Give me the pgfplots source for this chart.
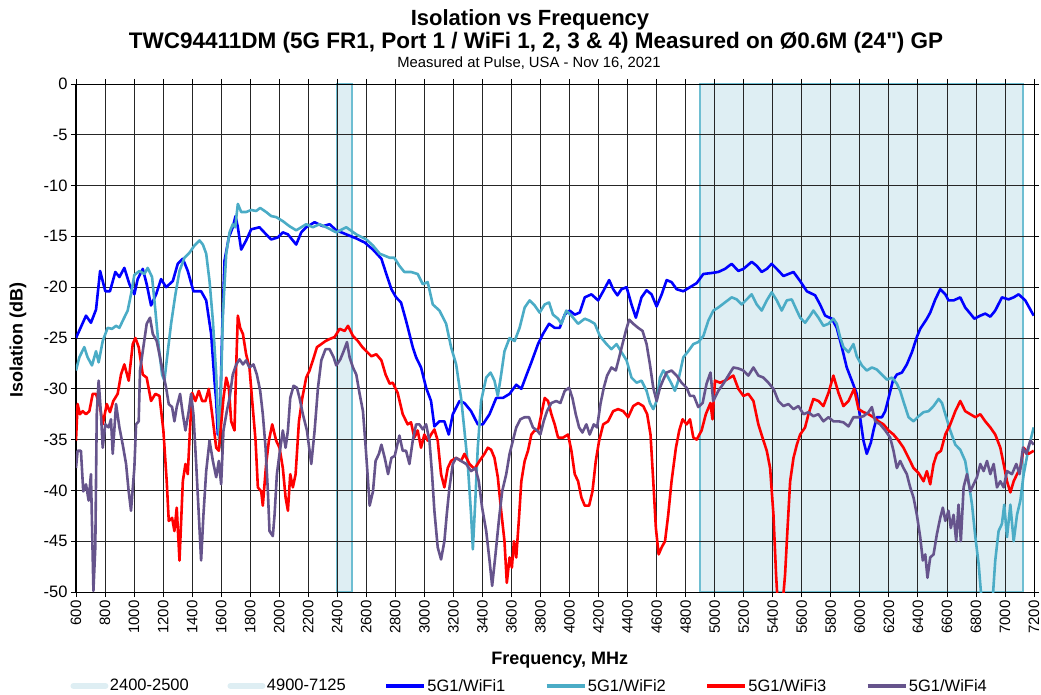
\documentclass[border=0pt]{standalone}
\usepackage{pgfplots}
\pgfplotsset{compat=1.18}
\usepackage{fontspec}
\setmainfont{Liberation Sans}
\newfontfamily\qfont{Liberation Sans}
\definecolor{cBlue}{RGB}{0,0,255}
\definecolor{cCyan}{RGB}{75,172,198}
\definecolor{cRed}{RGB}{255,0,0}
\definecolor{cPurple}{RGB}{102,84,140}
\definecolor{bandfill}{RGB}{222,238,243}
\definecolor{bandline}{RGB}{110,190,210}
\begin{document}
\begin{tikzpicture}
\begin{axis}[name=ax, at={(0,0)}, anchor=south west,
  width=958pt, height=508pt, scale only axis,
  xmin=600, xmax=7200, ymin=-50, ymax=0,
  xtick={600,800,...,7200}, ytick={-50,-45,...,0},
  set layers=standard,
  grid=major, grid style={black!85, line width=0.8pt},
  axis line style={black, line width=1pt},
  tick style={black, line width=0.8pt},
  tick align=outside, major tick length=5pt,
  xticklabel style={rotate=90, anchor=east, font=\fontsize{15}{15}\selectfont},
  yticklabel style={font=\fontsize{16.5}{16.5}\selectfont},
  /pgf/number format/assume math mode=true,
  /pgf/number format/1000 sep={},
  xlabel={Frequency, MHz},
  xlabel style={font=\fontsize{18}{18}\selectfont\bfseries, at={(axis description cs:0.505,-0.134)}, anchor=center},
  ylabel={Isolation (dB)},
  ylabel style={font=\fontsize{18}{18}\selectfont\bfseries, at={(axis description cs:-0.0605,0.496)}, anchor=center},
  legend style={at={(axis description cs:-0.006,-0.185)}, anchor=west, draw=none, fill=none,
    legend columns=6, inner sep=0pt, nodes={inner sep=1.5pt},
    font=\fontsize{16.5}{16.5}\selectfont,
    /tikz/every even column/.append style={column sep=0pt}},
  legend cell align=left,
]
\addplot[on layer=axis background, fill=bandfill, draw=bandline, line width=1.8pt,
  legend image code/.code={\draw[bandfill, line width=6pt, line cap=round] (3pt,0pt) -- (35pt,0pt);}]
  coordinates {(2400,-50) (2400,0) (2500,0) (2500,-50) (2400,-50)};
\addlegendentry{\makebox[116pt][l]{2400-2500}}
\addplot[on layer=axis background, fill=bandfill, draw=bandline, line width=1.8pt,
  legend image code/.code={\draw[bandfill, line width=6pt, line cap=round] (3pt,0pt) -- (35pt,0pt);}]
  coordinates {(4900,-50) (4900,0) (7125,0) (7125,-50) (4900,-50)};
\addlegendentry{\makebox[116pt][l]{4900-7125}}

\addplot[cBlue, line width=2.6pt, line join=round,
  legend image code/.code={\draw[cBlue, line width=3.5pt] (0pt,0pt) -- (38pt,0pt);}]
coordinates {(600,-25.0) (669,-22.8) (703,-23.5) (738,-22.2) (766,-18.4) (802,-20.4) (834,-20.4) (871,-18.5) (899,-19.0) (933,-18.1) (968,-19.7) (1002,-20.7) (1025,-19.2) (1060,-18.2) (1087,-19.7) (1117,-21.8) (1152,-20.7) (1186,-19.2) (1221,-20.0) (1267,-19.4) (1301,-17.7) (1336,-17.2) (1370,-18.4) (1409,-20.4) (1462,-20.4) (1497,-21.3) (1531,-24.6) (1554,-29.2) (1566,-31.2) (1577,-34.5) (1593,-32.5) (1607,-24.3) (1623,-17.4) (1653,-15.1) (1680,-14.1) (1699,-13.0) (1715,-14.1) (1738,-16.3) (1772,-15.4) (1807,-14.3) (1864,-14.1) (1910,-14.8) (1945,-15.3) (1991,-15.1) (2025,-14.6) (2060,-14.8) (2094,-15.4) (2117,-15.8) (2152,-14.6) (2186,-14.1) (2244,-13.6) (2301,-14.0) (2347,-13.8) (2393,-14.4) (2462,-14.8) (2531,-15.2) (2589,-15.6) (2646,-16.3) (2704,-17.2) (2738,-18.7) (2773,-20.2) (2805,-21.0) (2839,-21.5) (2874,-23.3) (2920,-25.9) (2943,-26.9) (2977,-27.9) (3012,-29.9) (3046,-31.2) (3069,-33.7) (3104,-33.2) (3138,-33.2) (3168,-34.5) (3196,-32.5) (3242,-31.2) (3276,-31.4) (3322,-32.2) (3368,-33.5) (3403,-33.5) (3449,-32.5) (3495,-30.9) (3541,-30.9) (3587,-30.5) (3633,-29.6) (3668,-30.0) (3702,-28.7) (3737,-27.4) (3783,-25.6) (3817,-24.6) (3859,-23.6) (3898,-24.0) (3932,-24.0) (3967,-22.7) (4001,-22.3) (4036,-22.7) (4070,-22.5) (4105,-21.0) (4151,-20.7) (4197,-21.3) (4232,-20.4) (4273,-19.3) (4301,-20.2) (4330,-20.8) (4358,-20.2) (4393,-20.0) (4427,-21.7) (4457,-23.0) (4496,-21.0) (4531,-20.3) (4565,-20.7) (4600,-21.9) (4635,-20.7) (4669,-19.3) (4703,-19.5) (4738,-20.2) (4784,-20.4) (4830,-20.0) (4876,-19.6) (4922,-18.7) (4980,-18.6) (5025,-18.5) (5071,-18.2) (5117,-17.7) (5163,-18.4) (5198,-18.2) (5255,-17.5) (5290,-17.9) (5324,-18.5) (5359,-18.2) (5393,-17.7) (5428,-18.2) (5474,-18.9) (5508,-18.7) (5543,-18.5) (5589,-19.4) (5635,-20.4) (5692,-20.8) (5726,-21.7) (5761,-22.8) (5807,-23.1) (5841,-24.0) (5876,-25.9) (5910,-27.9) (5945,-29.2) (5979,-30.5) (6002,-32.8) (6025,-35.1) (6048,-36.4) (6076,-35.3) (6094,-34.1) (6117,-32.8) (6152,-32.8) (6175,-32.2) (6198,-30.9) (6228,-29.2) (6255,-28.6) (6290,-28.4) (6324,-27.6) (6359,-26.4) (6393,-24.9) (6416,-24.1) (6462,-23.1) (6485,-22.5) (6520,-21.2) (6554,-20.2) (6589,-20.7) (6611,-21.3) (6646,-21.3) (6692,-21.0) (6726,-22.0) (6761,-22.6) (6789,-23.1) (6830,-22.8) (6864,-22.6) (6899,-22.9) (6933,-22.3) (6979,-21.0) (7025,-21.2) (7060,-21.0) (7094,-20.7) (7140,-21.3) (7198,-22.8)};
\addlegendentry{\makebox[116pt][l]{5G1/WiFi1}}

\addplot[cCyan, line width=2.6pt, line join=round,
  legend image code/.code={\draw[cCyan, line width=3.5pt] (0pt,0pt) -- (38pt,0pt);}]
coordinates {(600,-28.2) (623,-26.9) (657,-25.9) (680,-26.9) (710,-27.7) (738,-26.3) (756,-27.4) (784,-25.3) (818,-24.0) (848,-24.1) (876,-23.8) (899,-24.0) (922,-23.3) (956,-22.3) (979,-20.7) (1002,-18.8) (1037,-18.4) (1071,-18.7) (1094,-18.1) (1124,-19.0) (1147,-22.3) (1170,-25.9) (1193,-28.6) (1209,-29.2) (1225,-27.2) (1255,-23.6) (1285,-20.7) (1313,-18.4) (1347,-17.1) (1382,-16.6) (1416,-15.9) (1451,-15.4) (1474,-15.8) (1497,-16.7) (1520,-19.4) (1543,-23.3) (1566,-28.6) (1577,-32.5) (1589,-35.8) (1600,-29.2) (1612,-22.7) (1635,-16.7) (1658,-14.6) (1680,-13.8) (1697,-14.1) (1715,-11.8) (1738,-12.6) (1772,-12.6) (1807,-12.4) (1841,-12.5) (1869,-12.2) (1910,-12.6) (1945,-13.0) (1979,-13.1) (2025,-13.5) (2071,-14.0) (2117,-14.4) (2152,-14.1) (2186,-13.8) (2232,-14.1) (2278,-13.8) (2324,-14.1) (2393,-14.6) (2462,-14.1) (2531,-14.8) (2600,-15.3) (2646,-15.9) (2692,-16.7) (2761,-17.1) (2793,-17.1) (2828,-17.9) (2862,-18.5) (2908,-18.5) (2954,-18.7) (2989,-19.7) (3023,-19.5) (3058,-21.7) (3104,-22.3) (3150,-23.6) (3184,-25.9) (3219,-27.6) (3253,-30.9) (3276,-34.1) (3299,-37.4) (3322,-42.4) (3334,-45.8) (3352,-40.7) (3368,-35.8) (3391,-31.2) (3426,-28.9) (3456,-28.4) (3483,-29.2) (3506,-30.7) (3529,-28.6) (3552,-26.3) (3587,-25.0) (3622,-25.3) (3656,-24.0) (3691,-22.0) (3725,-21.3) (3760,-21.8) (3794,-22.5) (3829,-21.7) (3859,-21.5) (3886,-22.7) (3921,-23.1) (3944,-23.6) (3978,-22.3) (4013,-22.8) (4059,-23.6) (4105,-23.1) (4139,-23.3) (4174,-23.6) (4209,-24.8) (4255,-25.6) (4289,-26.1) (4324,-25.6) (4358,-26.4) (4393,-27.2) (4427,-28.9) (4462,-29.4) (4496,-29.2) (4531,-30.2) (4554,-31.4) (4577,-32.0) (4600,-31.2) (4623,-28.9) (4646,-28.2) (4669,-28.6) (4703,-29.5) (4726,-30.2) (4749,-29.2) (4784,-26.9) (4818,-26.3) (4853,-25.6) (4887,-25.4) (4922,-24.8) (4956,-23.3) (4991,-22.3) (5025,-22.0) (5071,-21.5) (5117,-21.0) (5152,-21.2) (5186,-21.7) (5221,-21.2) (5255,-20.7) (5290,-21.7) (5324,-22.3) (5359,-21.3) (5393,-20.5) (5428,-21.3) (5462,-22.3) (5497,-21.3) (5531,-21.2) (5566,-22.3) (5589,-23.0) (5623,-23.5) (5658,-22.8) (5680,-22.3) (5715,-23.0) (5749,-23.8) (5784,-23.6) (5818,-23.1) (5841,-23.6) (5864,-24.9) (5887,-25.9) (5922,-26.4) (5956,-25.6) (5979,-26.8) (6014,-27.7) (6048,-28.2) (6083,-27.9) (6117,-28.1) (6152,-28.6) (6186,-29.1) (6221,-28.9) (6255,-29.5) (6278,-30.2) (6306,-31.5) (6336,-32.8) (6370,-33.2) (6405,-32.7) (6439,-32.3) (6474,-32.2) (6508,-31.7) (6543,-31.0) (6566,-31.4) (6589,-32.5) (6623,-34.1) (6658,-35.5) (6692,-36.0) (6726,-37.1) (6749,-39.1) (6773,-41.4) (6796,-44.6) (6819,-47.3) (6837,-50.5) (6876,-51) (6917,-50.3) (6933,-46.9) (6956,-44.0) (6979,-43.3) (6995,-41.4) (7014,-44.6) (7037,-41.4) (7060,-45.0) (7083,-42.4) (7106,-41.0) (7129,-38.4) (7163,-35.8) (7198,-33.8)};
\addlegendentry{\makebox[116pt][l]{5G1/WiFi2}}

\addplot[cRed, line width=2.6pt, line join=round,
  legend image code/.code={\draw[cRed, line width=3.5pt] (0pt,0pt) -- (38pt,0pt);}]
coordinates {(600,-35.1) (611,-31.5) (627,-32.5) (646,-32.2) (669,-32.5) (692,-32.2) (715,-30.5) (738,-30.5) (766,-31.8) (784,-33.5) (812,-31.5) (834,-32.3) (857,-31.2) (887,-30.5) (910,-28.6) (933,-27.6) (963,-29.2) (991,-25.6) (1009,-25.0) (1032,-25.9) (1060,-28.6) (1087,-28.9) (1117,-31.2) (1147,-30.5) (1175,-30.7) (1202,-34.1) (1225,-39.1) (1239,-43.0) (1262,-42.7) (1278,-44.0) (1294,-41.7) (1313,-46.9) (1336,-39.1) (1354,-37.4) (1370,-38.4) (1386,-33.8) (1400,-30.4) (1423,-31.2) (1446,-30.2) (1469,-31.2) (1492,-31.2) (1515,-30.0) (1538,-32.5) (1566,-35.8) (1584,-36.1) (1600,-33.5) (1616,-30.9) (1635,-28.9) (1653,-29.9) (1669,-33.2) (1692,-34.1) (1704,-27.6) (1715,-22.8) (1731,-24.0) (1750,-24.6) (1772,-26.6) (1795,-27.9) (1814,-31.2) (1837,-35.1) (1853,-39.7) (1876,-40.1) (1887,-41.5) (1910,-37.4) (1929,-35.1) (1952,-33.5) (1979,-35.1) (2002,-35.8) (2025,-37.8) (2044,-40.7) (2060,-42.0) (2076,-38.4) (2094,-39.7) (2113,-38.4) (2136,-33.2) (2159,-30.9) (2186,-28.9) (2209,-28.2) (2232,-27.2) (2260,-25.9) (2290,-25.6) (2319,-25.3) (2347,-25.1) (2382,-24.9) (2416,-24.1) (2451,-24.3) (2474,-23.8) (2508,-24.8) (2542,-25.3) (2573,-25.9) (2600,-26.3) (2635,-26.8) (2669,-26.6) (2704,-27.2) (2733,-28.6) (2761,-29.5) (2782,-29.4) (2816,-30.4) (2851,-32.5) (2885,-33.5) (2908,-33.3) (2931,-34.8) (2954,-34.1) (2977,-35.8) (3000,-34.5) (3023,-35.1) (3046,-34.5) (3069,-34.0) (3092,-35.1) (3115,-38.4) (3138,-39.7) (3161,-37.8) (3184,-37.1) (3219,-36.8) (3253,-37.1) (3276,-36.4) (3311,-37.4) (3345,-37.9) (3380,-37.1) (3414,-36.4) (3437,-35.8) (3460,-36.0) (3483,-36.8) (3506,-38.7) (3529,-42.0) (3552,-45.0) (3568,-49.1) (3587,-46.6) (3603,-47.6) (3617,-45.0) (3633,-46.6) (3652,-42.7) (3668,-39.1) (3691,-37.1) (3714,-36.1) (3737,-34.5) (3760,-34.1) (3783,-34.1) (3806,-32.5) (3829,-30.9) (3852,-31.2) (3875,-32.5) (3898,-33.5) (3921,-34.8) (3956,-34.8) (3990,-34.5) (4013,-36.1) (4036,-38.4) (4059,-39.1) (4082,-40.7) (4105,-41.5) (4135,-41.5) (4158,-40.1) (4181,-37.1) (4204,-35.1) (4232,-33.5) (4266,-33.2) (4301,-32.2) (4335,-32.0) (4370,-32.2) (4404,-32.8) (4439,-31.7) (4473,-31.4) (4508,-31.7) (4535,-32.5) (4558,-34.5) (4577,-39.1) (4595,-43.7) (4614,-46.3) (4635,-45.6) (4658,-45.0) (4680,-42.4) (4703,-39.1) (4733,-35.8) (4756,-34.1) (4779,-33.0) (4807,-33.5) (4830,-33.0) (4853,-34.8) (4876,-35.0) (4910,-34.1) (4939,-32.5) (4971,-31.4) (4985,-33.0) (5002,-29.2) (5037,-29.4) (5071,-29.2) (5106,-28.9) (5129,-28.7) (5163,-30.0) (5198,-30.7) (5232,-30.5) (5267,-31.2) (5301,-33.5) (5336,-35.1) (5359,-36.1) (5382,-37.8) (5405,-42.4) (5423,-48.3) (5434,-51) (5469,-51) (5485,-48.3) (5501,-44.0) (5520,-39.1) (5543,-36.8) (5566,-35.5) (5589,-34.5) (5623,-33.8) (5646,-32.5) (5680,-31.0) (5715,-31.2) (5749,-31.7) (5784,-30.4) (5818,-28.7) (5853,-30.4) (5887,-31.7) (5922,-31.2) (5961,-30.0) (5991,-32.0) (6025,-32.3) (6060,-32.5) (6094,-32.8) (6129,-33.2) (6163,-33.5) (6198,-34.1) (6232,-34.5) (6267,-35.1) (6301,-35.8) (6336,-36.8) (6370,-37.8) (6405,-38.3) (6439,-39.1) (6462,-38.1) (6485,-39.4) (6508,-37.4) (6531,-36.4) (6559,-36.1) (6589,-34.5) (6623,-33.5) (6658,-32.2) (6692,-31.2) (6726,-32.2) (6761,-32.5) (6796,-32.8) (6830,-32.5) (6864,-33.2) (6899,-33.8) (6933,-34.5) (6968,-35.8) (6991,-37.4) (7014,-39.1) (7037,-40.2) (7060,-39.1) (7083,-38.4) (7106,-37.8) (7129,-35.8) (7163,-36.4) (7198,-36.1)};
\addlegendentry{\makebox[116pt][l]{5G1/WiFi3}}

\addplot[cPurple, line width=2.6pt, line join=round,
  legend image code/.code={\draw[cPurple, line width=3.5pt] (0pt,0pt) -- (38pt,0pt);}]
coordinates {(600,-37.8) (611,-36.1) (634,-36.1) (650,-40.1) (669,-39.4) (687,-41.0) (703,-38.4) (720,-49.9) (733,-45.6) (743,-32.5) (756,-29.2) (772,-32.5) (784,-35.8) (802,-33.5) (825,-33.8) (841,-33.0) (853,-36.4) (876,-31.5) (899,-33.8) (922,-35.5) (945,-37.4) (963,-40.1) (979,-42.0) (1002,-37.8) (1014,-33.5) (1032,-33.2) (1041,-28.2) (1064,-25.9) (1087,-23.6) (1110,-23.0) (1129,-24.6) (1156,-25.3) (1179,-26.9) (1202,-28.6) (1221,-29.9) (1239,-31.5) (1262,-31.8) (1278,-33.2) (1294,-31.8) (1317,-30.5) (1336,-32.5) (1354,-34.1) (1377,-32.2) (1393,-30.5) (1409,-32.5) (1428,-37.4) (1446,-42.4) (1462,-46.9) (1478,-42.4) (1497,-38.1) (1520,-35.1) (1543,-37.1) (1566,-38.7) (1584,-37.1) (1600,-39.4) (1616,-34.1) (1639,-32.2) (1658,-30.9) (1680,-28.6) (1704,-27.6) (1727,-27.1) (1750,-27.6) (1772,-27.2) (1795,-27.9) (1823,-27.6) (1846,-28.6) (1869,-30.2) (1887,-32.5) (1906,-35.8) (1922,-40.1) (1933,-44.0) (1956,-44.5) (1968,-42.4) (1984,-38.4) (2002,-36.4) (2025,-34.1) (2044,-35.8) (2060,-34.1) (2076,-30.9) (2099,-29.7) (2122,-29.9) (2140,-30.9) (2163,-32.5) (2191,-34.1) (2221,-37.4) (2244,-34.1) (2267,-29.9) (2290,-27.2) (2319,-26.1) (2347,-26.1) (2375,-26.9) (2393,-27.7) (2421,-27.1) (2444,-26.3) (2467,-25.4) (2485,-26.9) (2508,-27.9) (2531,-28.6) (2554,-30.5) (2577,-32.2) (2596,-35.8) (2612,-39.1) (2623,-41.5) (2646,-40.1) (2664,-37.1) (2687,-36.4) (2704,-35.5) (2727,-36.8) (2750,-38.4) (2773,-36.8) (2796,-36.6) (2828,-34.6) (2851,-36.1) (2874,-36.1) (2897,-37.4) (2920,-35.1) (2943,-33.5) (2966,-33.5) (2989,-34.0) (3012,-33.5) (3035,-35.1) (3053,-38.4) (3069,-42.0) (3092,-45.6) (3115,-46.8) (3138,-45.0) (3154,-42.4) (3173,-39.7) (3196,-37.4) (3219,-36.8) (3253,-37.1) (3288,-37.4) (3322,-38.1) (3352,-37.8) (3375,-39.1) (3398,-41.7) (3426,-44.0) (3449,-46.9) (3467,-49.4) (3490,-46.3) (3513,-43.0) (3536,-40.1) (3564,-38.4) (3587,-36.4) (3610,-35.1) (3633,-33.8) (3661,-33.0) (3691,-32.8) (3721,-32.8) (3748,-33.8) (3776,-34.1) (3799,-34.5) (3822,-33.2) (3845,-32.2) (3875,-31.4) (3909,-31.2) (3937,-31.4) (3967,-30.2) (3997,-29.9) (4020,-30.9) (4043,-32.5) (4066,-33.8) (4089,-34.3) (4116,-33.5) (4139,-34.5) (4167,-33.5) (4190,-33.8) (4213,-31.5) (4236,-29.9) (4259,-28.7) (4289,-27.9) (4319,-28.2) (4342,-26.9) (4365,-25.6) (4388,-24.3) (4411,-23.2) (4439,-23.6) (4473,-24.0) (4503,-24.3) (4531,-25.6) (4554,-27.6) (4577,-29.9) (4600,-31.2) (4623,-29.9) (4646,-29.1) (4669,-28.4) (4703,-28.2) (4738,-28.7) (4772,-29.4) (4807,-29.9) (4830,-30.7) (4857,-30.7) (4887,-31.8) (4917,-31.4) (4944,-29.5) (4971,-28.4) (4990,-31.2) (5025,-30.2) (5060,-29.5) (5094,-28.7) (5129,-27.9) (5163,-28.0) (5198,-28.2) (5232,-28.7) (5267,-27.9) (5301,-28.7) (5336,-28.9) (5370,-29.4) (5405,-30.0) (5439,-31.2) (5474,-31.7) (5508,-31.5) (5543,-32.0) (5577,-31.7) (5612,-32.5) (5646,-32.3) (5680,-32.7) (5715,-32.5) (5749,-33.2) (5784,-32.8) (5818,-33.2) (5853,-33.2) (5887,-33.3) (5922,-33.7) (5956,-32.8) (5991,-32.8) (6025,-32.7) (6060,-32.3) (6083,-31.8) (6106,-33.2) (6140,-33.5) (6175,-34.1) (6209,-34.8) (6232,-36.1) (6255,-37.8) (6278,-37.1) (6301,-37.8) (6324,-38.4) (6347,-39.7) (6370,-40.7) (6393,-42.4) (6416,-44.6) (6434,-46.9) (6451,-46.3) (6466,-48.6) (6485,-46.6) (6508,-46.3) (6531,-44.3) (6554,-42.7) (6572,-41.7) (6589,-43.0) (6611,-42.0) (6627,-43.7) (6646,-42.4) (6664,-45.0) (6680,-41.4) (6696,-45.0) (6715,-39.7) (6738,-38.4) (6761,-40.1) (6784,-39.4) (6807,-38.7) (6830,-37.4) (6853,-38.1) (6876,-37.1) (6899,-38.4) (6922,-37.4) (6945,-39.7) (6968,-39.1) (6991,-39.7) (7014,-38.1) (7048,-38.4) (7078,-37.4) (7101,-38.4) (7124,-35.8) (7147,-36.4) (7175,-35.1) (7198,-35.5)};
\addlegendentry{5G1/WiFi4}
\end{axis}
\node[font=\fontsize{22}{22}\selectfont\bfseries, anchor=base] at (454pt,566pt) {Isolation vs Frequency};
\node[font=\fontsize{22.5}{22.5}\selectfont\bfseries, anchor=base] at (460pt,543pt) {TWC94411DM (5G FR1, Port 1 / WiFi 1, 2, 3 \& 4) Measured on Ø0.6M (24{\qfont\bfseries "}) GP};
\node[font=\fontsize{14.8}{14.8}\selectfont, anchor=base] at (453pt,524pt) {Measured at Pulse, USA - Nov 16, 2021};
\pgfresetboundingbox
\useasboundingbox (-76pt,-102pt) rectangle (965pt,592pt);
\end{tikzpicture}
\end{document}
